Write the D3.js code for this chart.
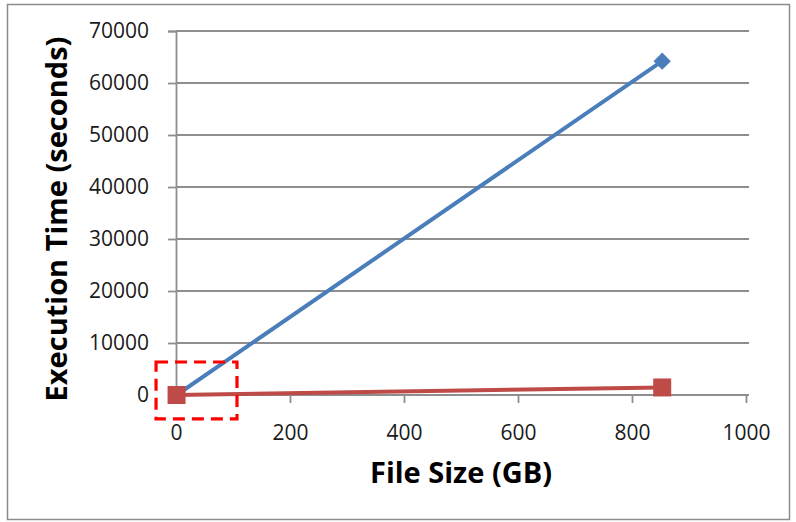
<!DOCTYPE html>
<html>
<head>
<meta charset="utf-8">
<script src="https://cdn.jsdelivr.net/npm/d3@7"></script>
<style>
  html, body { margin: 0; padding: 0; background: #fff; }
  svg text { font-family: "Open Sans", "Liberation Sans", sans-serif; }
</style>
</head>
<body>
<svg id="chart" width="796" height="522"></svg>
<script>
// File size (GB) against execution time (seconds) for two runs
const fileSizes = [1, 853];
const seriesBlue = [0, 64200];
const seriesRed = [0, 1450];
const xTicks = [0, 200, 400, 600, 800, 1000];
const yTicks = [0, 10000, 20000, 30000, 40000, 50000, 60000, 70000];
// Highlighted region near the origin, in data units
const focusX = [-35, 107];
const focusY = [-4600, 6350];

const svg = d3.select("#chart");

// Outer frame
svg.append("rect")
  .attr("x", 7.5).attr("y", 4.5)
  .attr("width", 782).attr("height", 515)
  .attr("fill", "#fff").attr("stroke", "#8c8c8c").attr("stroke-width", 1.5);

const x = d3.scaleLinear().domain([0, 1000]).range([176, 746]);
const y = d3.scaleLinear().domain([0, 70000]).range([395, 31]);

const gridColor = "#8e8e8e";

// Horizontal gridlines
svg.append("g").selectAll("line").data(yTicks).join("line")
  .attr("x1", x(0)).attr("x2", 749)
  .attr("y1", d => y(d)).attr("y2", d => y(d))
  .attr("stroke", gridColor).attr("stroke-width", 1.8);

// Y axis
const yAxis = svg.append("g")
  .attr("transform", `translate(${x(0)},0)`)
  .call(d3.axisLeft(y).tickValues(yTicks).tickFormat(d3.format("d")).tickSize(8).tickPadding(19));
yAxis.select(".domain").attr("stroke", gridColor).attr("stroke-width", 1.8);
yAxis.selectAll(".tick line").attr("stroke", gridColor).attr("stroke-width", 1.8);
yAxis.selectAll(".tick text")
  .attr("font-size", 21).attr("fill", "#1a1a1a")
  .attr("font-family", "'Open Sans', sans-serif");

// X axis
const xAxis = svg.append("g")
  .attr("transform", `translate(0,${y(0)})`)
  .call(d3.axisBottom(x).tickValues(xTicks).tickFormat(d3.format("d")).tickSize(8).tickPadding(22));
xAxis.select(".domain").attr("stroke", gridColor).attr("stroke-width", 1.8)
  .attr("d", `M${x(0)},0H749`);
xAxis.selectAll(".tick line").attr("stroke", gridColor).attr("stroke-width", 1.8);
xAxis.selectAll(".tick text")
  .attr("font-size", 21).attr("fill", "#1a1a1a")
  .attr("font-family", "'Open Sans', sans-serif");

// Axis titles
svg.append("text")
  .attr("x", 461).attr("y", 483)
  .attr("text-anchor", "middle")
  .attr("font-size", 29).attr("font-weight", "bold").attr("fill", "#000")
  .text("File Size (GB)");

svg.append("text")
  .attr("transform", "translate(67,219) rotate(-90)")
  .attr("text-anchor", "middle")
  .attr("font-size", 29).attr("font-weight", "bold").attr("fill", "#000")
  .text("Execution  Time (seconds)");

const line = d3.line().x(d => x(d[0])).y(d => y(d[1]));
const blueData = fileSizes.map((s, i) => [s, seriesBlue[i]]);
const redData = fileSizes.map((s, i) => [s, seriesRed[i]]);

const blue = "#4a7ebb", red = "#be4b48";

// Blue series with diamond markers
svg.append("path").datum(blueData)
  .attr("d", line).attr("fill", "none")
  .attr("stroke", blue).attr("stroke-width", 4);
svg.append("g").selectAll("path").data(blueData).join("path")
  .attr("transform", d => `translate(${x(d[0])},${y(d[1])}) rotate(45)`)
  .attr("d", d3.symbol(d3.symbolSquare, 150))
  .attr("fill", blue);

// Red series with square markers
svg.append("path").datum(redData)
  .attr("d", line).attr("fill", "none")
  .attr("stroke", red).attr("stroke-width", 4);
svg.append("g").selectAll("rect").data(redData).join("rect")
  .attr("x", d => x(d[0]) - 9).attr("y", d => y(d[1]) - 9)
  .attr("width", 18).attr("height", 18)
  .attr("fill", red);

// Dashed focus box around the origin
svg.append("rect")
  .attr("x", x(focusX[0])).attr("y", y(focusY[1]))
  .attr("width", x(focusX[1]) - x(focusX[0]))
  .attr("height", y(focusY[0]) - y(focusY[1]))
  .attr("fill", "none").attr("stroke", "#ff0000")
  .attr("stroke-width", 3.2).attr("stroke-dasharray", "12,7");
</script>
</body>
</html>
